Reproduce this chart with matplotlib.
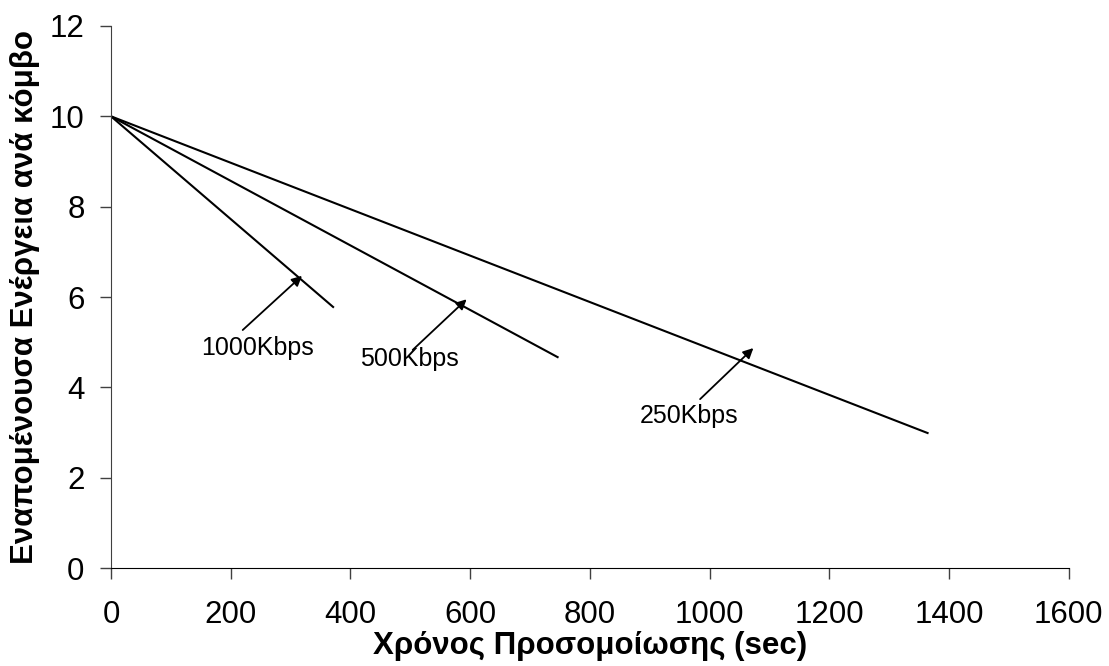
import numpy as np
import matplotlib.pyplot as plt

plt.rcParams['font.family'] = ['Liberation Sans', 'DejaVu Sans']

# simulation time (sec) and remaining energy per node
time_1000 = [0, 371]
energy_1000 = [10, 5.78]
time_500 = [0, 746]
energy_500 = [10, 4.67]
time_250 = [0, 1364]
energy_250 = [10, 2.99]

labels = ["1000Kbps", "500Kbps", "250Kbps"]
arrow_heads = [(319, 6.47), (594, 5.95), (1073, 4.87)]
arrow_tails = [(220, 5.27), (504, 4.83), (984, 3.74)]
label_pos = [(244, 4.87), (499, 4.63), (965, 3.37)]

fig = plt.figure(figsize=(11.09, 6.66), dpi=100)
ax = fig.add_axes([0.1001, 0.147, 0.8637, 0.814])

ax.plot(time_1000, energy_1000, color="black", lw=1.5)
ax.plot(time_500, energy_500, color="black", lw=1.5)
ax.plot(time_250, energy_250, color="black", lw=1.5)

for lab, head, tail, pos in zip(labels, arrow_heads, arrow_tails, label_pos):
    ax.annotate("", xy=head, xytext=tail,
                arrowprops=dict(arrowstyle="-|>", color="black", lw=1.3,
                                mutation_scale=15, shrinkA=0, shrinkB=0))
    ax.text(pos[0], pos[1], lab, fontsize=18, ha="center", va="center")

ax.set_xlim(0, 1600)
ax.set_ylim(0, 12)
ax.set_xticks(np.arange(0, 1601, 200))
ax.set_yticks(np.arange(0, 13, 2))
ax.tick_params(labelsize=22.5, length=8, width=1, color="#404040")
ax.tick_params(axis="x", pad=15)
ax.tick_params(axis="y", pad=11)
for s in ["top", "right"]:
    ax.spines[s].set_visible(False)
ax.spines["left"].set_color("#404040")
ax.spines["bottom"].set_color("black")

ax.set_xlabel("Χρόνος Προσομοίωσης (sec)", fontsize=22.5, fontweight="bold", labelpad=1)
ax.set_ylabel("Εναπομένουσα Ενέργεια ανά κόμβο", fontsize=22.5, fontweight="bold", labelpad=7)

fig.savefig("out.png", dpi=100)
